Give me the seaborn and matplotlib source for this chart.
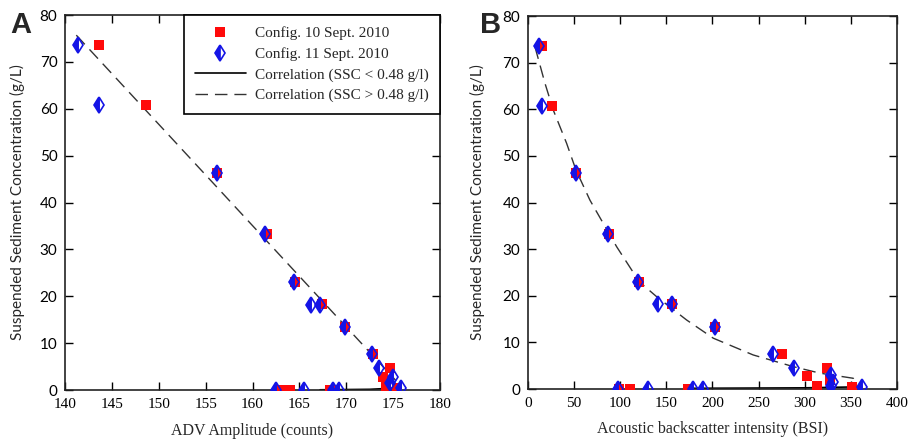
import matplotlib
matplotlib.use("Agg")
import matplotlib.pyplot as plt
from matplotlib.lines import Line2D
import seaborn as sns

# ---------------- Data ----------------
# Panel A: ADV amplitude (counts) vs SSC (g/L)
a_red_x = [143.6, 148.6, 156.2, 161.5, 164.5, 167.4, 169.9, 172.9, 174.7, 173.9, 174.2, 175.4,
           162.9, 164.0, 168.3]
a_red_y = [73.7, 60.7, 46.4, 33.2, 23.1, 18.3, 13.4, 7.6, 4.8, 2.8, 0.7, 0.5,
           0.0, 0.0, 0.1]
a_blue_x = [141.4, 143.6, 156.2, 161.3, 164.4, 166.2, 167.2, 169.9, 172.7, 173.5, 174.95, 174.7, 175.8,
            162.5, 165.5, 168.6, 169.2]
a_blue_y = [73.6, 60.7, 46.4, 33.2, 23.1, 18.1, 18.2, 13.4, 7.6, 4.6, 2.8, 1.4, 0.35,
            0.0, 0.0, 0.1, 0.0]
a_dash_x = [141.2, 175.3]
a_dash_y = [75.7, 2.0]
a_solid_x = [167.2, 172.5, 175.5]
a_solid_y = [0.05, 0.15, 0.45]

# Panel B: acoustic backscatter intensity (BSI) vs SSC (g/L)
b_red_x = [14.8, 25.7, 52.0, 88.2, 120.7, 155.8, 202.7, 275.0, 302.0, 323.8, 313.6, 327.4, 351.6,
           99.0, 110.6, 173.8]
b_red_y = [73.6, 60.7, 46.4, 33.2, 23.0, 18.2, 13.4, 7.5, 2.8, 4.6, 0.6, 1.9, 0.4,
           0.0, 0.0, 0.1]
b_blue_x = [11.9, 14.8, 52.0, 86.4, 118.9, 140.6, 155.8, 202.7, 265.9, 288.3, 328.1, 331.0, 328.0, 361.7,
            97.9, 129.7, 178.5, 190.0]
b_blue_y = [73.6, 60.7, 46.4, 33.2, 23.0, 18.2, 18.2, 13.4, 7.5, 4.6, 3.0, 1.5, 0.6, 0.4,
            0.0, 0.0, 0.1, 0.0]
b_dash_x = [7.6, 18.4, 27.5, 41.9, 52.0, 67.2, 96.2, 120.7, 139.5, 172.0, 200.9, 244.2, 287.6, 316.5, 352.7, 355.0]
b_dash_y = [73.4, 65.6, 59.8, 52.7, 47.0, 40.5, 30.5, 23.0, 19.8, 14.8, 10.9, 7.3, 4.8, 3.4, 2.3, 1.3]
b_solid_x = [173.0, 300.0, 355.0]
b_solid_y = [0.15, 0.25, 0.45]

legend_labels = ["Config. 10 Sept. 2010", "Config. 11 Sept. 2010",
                 "Correlation (SSC < 0.48 g/l)", "Correlation (SSC > 0.48 g/l)"]
a_xticks = [140, 145, 150, 155, 160, 165, 170, 175, 180]
b_xticks = [0, 50, 100, 150, 200, 250, 300, 350, 400]
yticks = [0, 10, 20, 30, 40, 50, 60, 70, 80]

# ---------------- Style ----------------
sns.set_theme(style="ticks")
plt.rcParams["font.family"] = ["Liberation Serif", "DejaVu Serif"]

RED = "#ff0a0a"
BLUE = "#1414e6"
SERIF = ["Liberation Serif", "DejaVu Serif"]
SANS = ["Lato", "DejaVu Sans"]

fig = plt.figure(figsize=(9.12, 4.4), dpi=100)
axA = fig.add_axes([0.0713, 0.1136, 0.4112, 0.8523])
axB = fig.add_axes([0.5789, 0.1159, 0.4046, 0.8477])


def draw_panel(ax, rx, ry, bx, by, dx, dy, sx, sy, xlim, xticks, xlabel, ylab_x):
    sns.lineplot(x=sx, y=sy, ax=ax, color="black", linewidth=1.2, estimator=None, sort=False)
    sns.lineplot(x=dx, y=dy, ax=ax, color="#333333", linewidth=1.0, estimator=None, sort=False,
                 dashes=False, linestyle=(0, (9, 5)))
    sns.scatterplot(x=rx, y=ry, ax=ax, marker="s", color=RED, s=46, linewidth=0, zorder=3)
    sns.lineplot(x=bx, y=by, ax=ax, estimator=None, sort=False, linestyle="none",
                 marker="d", markersize=8.5, color=BLUE, markeredgecolor=BLUE,
                 markerfacecolor=BLUE, fillstyle="left", markerfacecoloralt="none",
                 markeredgewidth=1.2, zorder=4)
    ax.set_xlim(*xlim)
    ax.set_ylim(0, 80)
    ax.set_xticks(xticks)
    ax.set_yticks(yticks)
    ax.tick_params(direction="in", length=6, width=1, top=True, right=True,
                   colors="black", pad=5.5)
    for lab in ax.get_xticklabels():
        lab.set_fontfamily(SERIF)
        lab.set_fontsize(11)
    for lab in ax.get_yticklabels():
        lab.set_fontfamily(SANS)
        lab.set_fontsize(11)
    for sp in ax.spines.values():
        sp.set_visible(True)
        sp.set_color("#222222")
        sp.set_linewidth(1.2)
    ax.set_xlabel(xlabel, fontfamily=SERIF, fontsize=11.5, va="top")
    ax.xaxis.set_label_coords(0.5, -0.087)
    ax.set_ylabel("Suspended Sediment Concentration (g/L)", fontfamily=SANS, fontsize=11)
    ax.yaxis.set_label_coords(ylab_x, 0.5)
    ax.set_facecolor("white")


draw_panel(axA, a_red_x, a_red_y, a_blue_x, a_blue_y, a_dash_x, a_dash_y, a_solid_x, a_solid_y,
           (140, 180), a_xticks, "ADV Amplitude (counts)", -0.107)
draw_panel(axB, b_red_x, b_red_y, b_blue_x, b_blue_y, b_dash_x, b_dash_y, b_solid_x, b_solid_y,
           (0, 400), b_xticks, "Acoustic backscatter intensity (BSI)", -0.117)

handles = [
    Line2D([], [], linestyle="none", marker="s", markersize=7, color=RED, markeredgewidth=0),
    Line2D([], [], linestyle="none", marker="d", markersize=8.5, color=BLUE, fillstyle="left",
           markerfacecoloralt="white", markeredgewidth=1.2),
    Line2D([], [], color="black", linewidth=1.2),
    Line2D([], [], color="#333333", linewidth=1.0, linestyle=(0, (9, 5))),
]
leg = axA.legend(handles=handles, labels=legend_labels, loc="upper right",
                 borderaxespad=0, frameon=True, fancybox=False, framealpha=1,
                 edgecolor="black", prop={"family": SERIF, "size": 11},
                 handlelength=3.3, handletextpad=0.6, labelspacing=0.45, borderpad=0.75)
leg.get_frame().set_linewidth(1.2)

fig.text(0.011, 0.925, "A", fontsize=21, fontweight="bold",
         fontfamily=["Liberation Sans", "DejaVu Sans"], va="baseline")
fig.text(0.526, 0.925, "B", fontsize=21, fontweight="bold",
         fontfamily=["Liberation Sans", "DejaVu Sans"], va="baseline")

fig.savefig("out.png", dpi=100)
